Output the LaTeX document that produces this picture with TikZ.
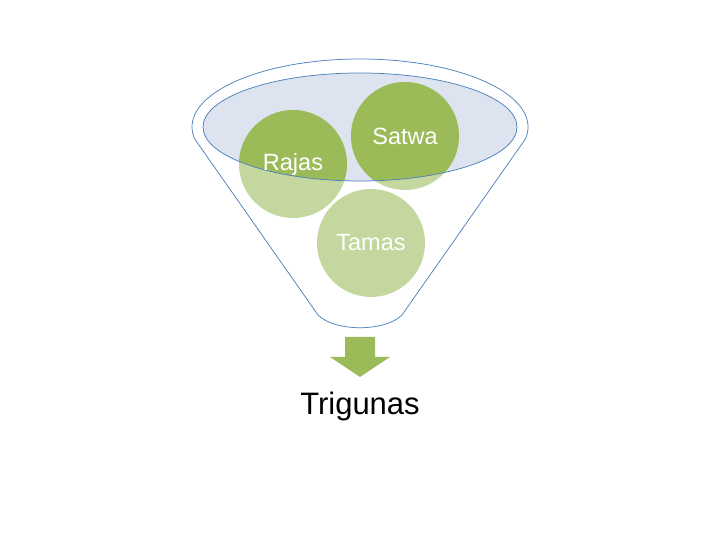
\documentclass[tikz,border=0pt]{standalone}
\usepackage{fontspec}
\setmainfont{Liberation Sans}
\definecolor{dgreen}{HTML}{9BBB59}
\definecolor{lgreen}{HTML}{C4D79E}
\definecolor{fblue}{HTML}{4F81BD}
\definecolor{efill}{HTML}{DDE4EF}
\tikzset{
  funnelline/.style={draw=fblue, line width=0.75pt, line join=round},
  ballnode/.style={circle, minimum size=108pt, inner sep=0pt, text=white, font=\fontsize{23.5}{28}\selectfont},
}
\begin{document}
\begin{tikzpicture}[x=1pt,y=1pt]
\useasboundingbox (0,0) rectangle (720,540);
% funnel outline
\draw[funnelline] (194.6,401.2) arc[start angle=190,end angle=-10,x radius=168,y radius=68]
  -- (402,225) .. controls (385,208) and (335,208) .. (318,225) -- cycle;
% inner ellipse fill
\fill[efill] (360,413) ellipse[x radius=157,y radius=54];
% light circles
\fill[lgreen] (293,376) circle[radius=54];
\fill[lgreen] (405,404) circle[radius=54];
\fill[lgreen] (371,297) circle[radius=54];
% dark part inside ellipse
\begin{scope}
  \clip (360,413) ellipse[x radius=157,y radius=54];
  \fill[dgreen] (293,376) circle[radius=54];
  \fill[dgreen] (405,404) circle[radius=54];
  \fill[dgreen] (371,297) circle[radius=54];
\end{scope}
\draw[funnelline] (360,413) ellipse[x radius=157,y radius=54];
% text nodes
\node[ballnode] (rajas) at (293,376) {Rajas};
\node[ballnode] (satwa) at (405,404) {Satwa};
\node[ballnode] (tamas) at (371,297) {Tamas};
% arrow
\fill[dgreen] (345,203) -- (375,203) -- (375,183) -- (390,183) -- (360,163) -- (330,183) -- (345,183) -- cycle;
% result
\node[anchor=base, inner sep=0pt, font=\fontsize{31}{36}\selectfont] (trigunas) at (360,125) {Trigunas};
\end{tikzpicture}
\end{document}
